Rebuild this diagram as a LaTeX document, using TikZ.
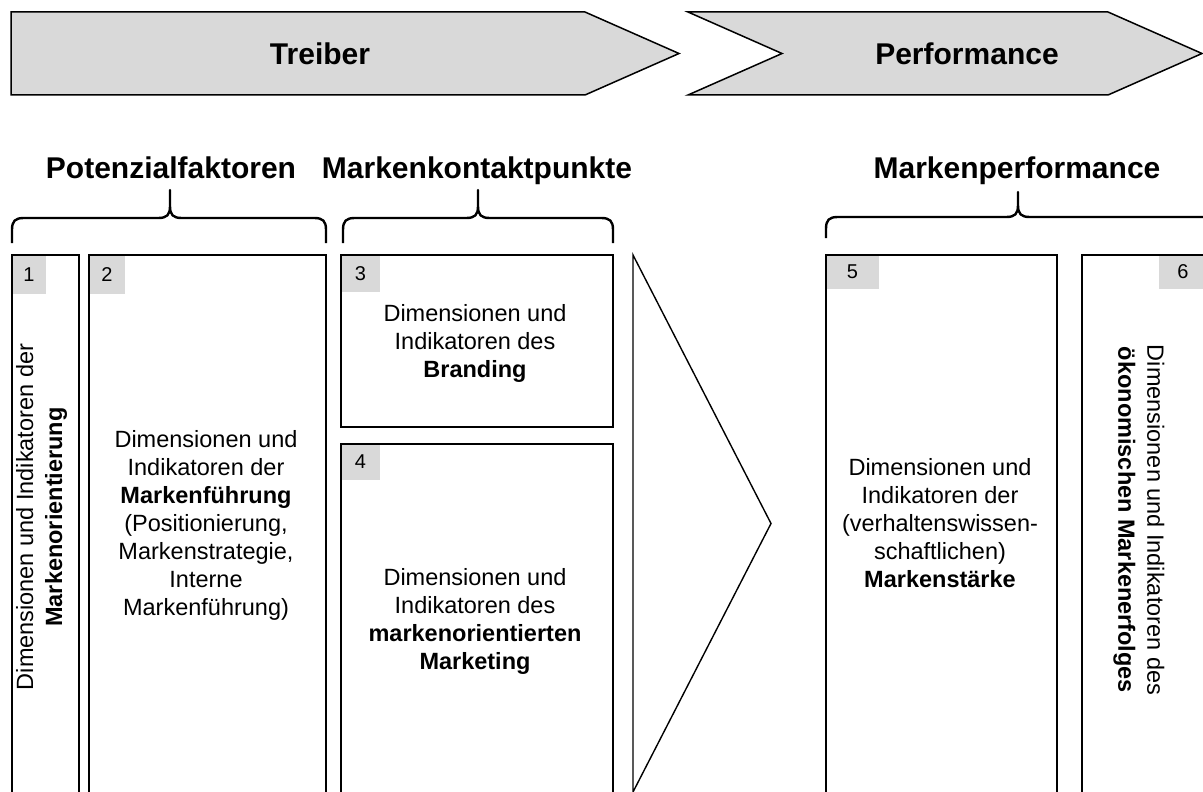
\documentclass[tikz,border=0pt]{standalone}
\usepackage{fontspec}
\setmainfont{Liberation Sans}
\definecolor{tabgrey}{HTML}{D9D9D9}

\begin{document}
\begin{tikzpicture}[x=1pt,y=-1pt]
\tikzstyle{every node}=[inner sep=0pt, outer sep=0pt, font=\fontsize{23.5}{28}\selectfont]
\tikzstyle{chevron}=[draw, fill=tabgrey, line width=1.5pt]
\tikzstyle{headline}=[font=\bfseries\fontsize{30}{36}\selectfont]
\tikzstyle{bracket}=[line width=2.4pt, line join=round]
\tikzstyle{frame}=[draw, line width=1.4pt, anchor=north west]
\tikzstyle{tab}=[fill=tabgrey, anchor=north west, font=\fontsize{20}{24}\selectfont]
\tikzstyle{body}=[align=center, anchor=north]
\tikzstyle{side}=[align=center, font=\fontsize{23.5}{29}\selectfont]

\useasboundingbox (0,0) rectangle (1203,792);
\clip (0,0) rectangle (1203,792);

\draw[chevron] (11,12) -- (585,12) -- (679,53.5) -- (585,95) -- (11,95) -- cycle;
\draw[chevron] (688,12) -- (1108,12) -- (1202,53.5) -- (1108,95) -- (688,95) -- (782,53.5) -- cycle;
\node[headline] (treiber) at (320,54) {Treiber};
\node[headline] (performance) at (967,54) {Performance};

\node[headline, anchor=base] (potenzial) at (171,178) {Potenzialfaktoren};
\node[headline, anchor=base] (kontakt) at (477,178) {Markenkontaktpunkte};
\node[headline, anchor=base] (markenperf) at (1017,178) {Markenperformance};

\draw[bracket] (12,243) -- (12,230) .. controls (12,221) and (15,218) .. (24,218) -- (158,218)
  .. controls (167,218) and (170,215) .. (170,206) -- (170,190) -- (170,206)
  .. controls (170,215) and (173,218) .. (182,218) -- (314,218)
  .. controls (323,218) and (326,221) .. (326,230) -- (326,243);
\draw[bracket] (343,243) -- (343,230) .. controls (343,221) and (346,218) .. (355,218) -- (466,218)
  .. controls (475,218) and (478,215) .. (478,206) -- (478,190) -- (478,206)
  .. controls (478,215) and (481,218) .. (490,218) -- (601,218)
  .. controls (610,218) and (613,221) .. (613,230) -- (613,243);
\draw[bracket] (826,238) -- (826,229) .. controls (826,220) and (829,217) .. (838,217) -- (1006,217)
  .. controls (1015,217) and (1018,214) .. (1018,205) -- (1018,192) -- (1018,205)
  .. controls (1018,214) and (1021,217) .. (1030,217) -- (1220,217);

\node[tab, minimum width=34, minimum height=39] (tab1) at (12,255) {1};
\node[tab, minimum width=36, minimum height=39] (tab2) at (89,255) {2\hspace{3pt}};
\node[tab, minimum width=39, minimum height=37] (tab3) at (341,255) {3};
\node[tab, minimum width=39, minimum height=36] (tab4) at (341,444) {4\hspace{3pt}};
\node[tab, minimum width=53, minimum height=34] (tab5) at (826,255) {5\hspace{10pt}};
\node[tab, minimum width=48, minimum height=34] (tab6) at (1159,255) {6};

\node[frame, minimum width=67, minimum height=600] (box1) at (12,255) {};
\node[frame, minimum width=237, minimum height=600] (box2) at (89,255) {};
\node[frame, minimum width=272, minimum height=172] (box3) at (341,255) {};
\node[frame, minimum width=272, minimum height=400] (box4) at (341,444) {};
\node[frame, minimum width=231, minimum height=600] (box5) at (826,255) {};
\node[frame, minimum width=200, minimum height=600] (box6) at (1082,255) {};

\draw[line width=1.4pt] (633,255) -- (771,523.5) -- (633,792) -- cycle;

\node[side, rotate=90] (text1) at (41.5,517) {Dimensionen und Indikatoren der\\\textbf{Markenorientierung}};
\node[body] (text2) at (206,430.5) {Dimensionen und\\Indikatoren der\\\textbf{Markenführung}\\(Positionierung,\\Markenstrategie,\\Interne\\Markenführung)};
\node[body] (text3) at (475,304.5) {Dimensionen und\\Indikatoren des\\\textbf{Branding}};
\node[body] (text4) at (475,568.5) {Dimensionen und\\Indikatoren des\\\textbf{markenorientierten}\\\textbf{Marketing}};
\node[body] (text5) at (940,458.5) {Dimensionen und\\Indikatoren der\\(verhaltenswissen-\\schaftlichen)\\\textbf{Markenstärke}};
\node[side, rotate=-90] (text6) at (1139,520) {Dimensionen und Indikatoren des\\\textbf{ökonomischen Markenerfolges}};
\end{tikzpicture}
\end{document}
